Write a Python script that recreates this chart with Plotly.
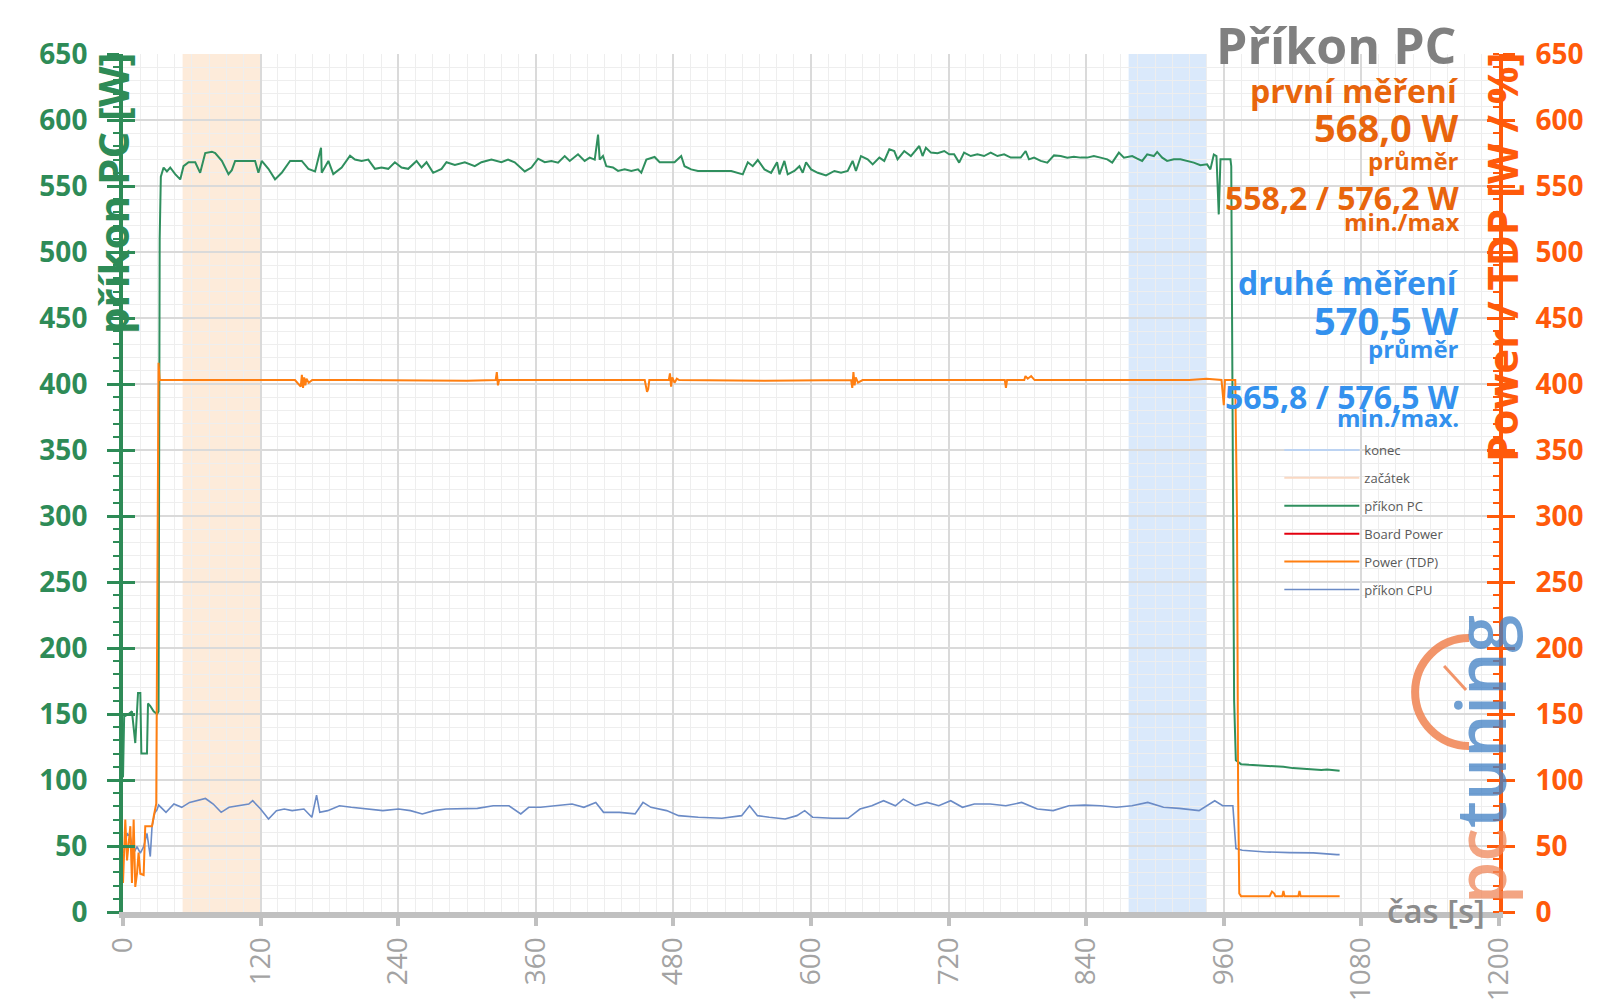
import plotly.graph_objects as go

# --- data -------------------------------------------------------------------
# příkon PC (left axis, W)
pc_t = [0, 1, 4.9, 7.8, 10.7, 13.1, 15.1, 16, 18, 20.9, 21.8, 23.8, 26.7, 29.6, 31, 32, 33,
        35.4, 38.3, 41.2, 45.5, 49.9, 52.8, 57.2, 63, 67.3, 71.7, 77.5, 80.4, 86.2, 92, 94.9,
        97.8, 106.5, 115.2, 118.1, 121, 126.8, 132.6, 138.4, 145.7, 155.9, 161.7, 167.5,
        172.7, 173.3, 179.1, 183.4, 190.7, 198, 202.3, 208.1, 213.9, 219.7, 225.5, 231.3,
        237.1, 242.9, 248.7, 256, 260.4, 264.7, 270.5, 277.8, 282.1, 289.4, 298.1, 306.8,
        312.6, 321.3, 330, 335.8, 341.6, 350.4, 356.2, 362, 367.8, 373.6, 379.4, 385.2,
        389.6, 396.8, 402.6, 407, 411.4, 414.3, 415.7, 418.6, 421.5, 427.3, 431.7, 437.5,
        443.3, 449.1, 452, 456.4, 463.6, 468, 475.2, 481, 486.8, 489.7, 495.5, 501.4, 510,
        518.8, 530.4, 540.5, 544.9, 549.2, 553.6, 559.4, 565.2, 570.4, 572.5, 576.8, 579.7,
        585.5, 589.9, 592.8, 595.7, 600.1, 605.9, 613.1, 620.4, 626.2, 632, 636.3, 639.2,
        643.6, 649.4, 653.8, 659.6, 663.9, 668.3, 672.6, 675.5, 681.3, 687.1, 694.4, 697.3,
        700.2, 704.6, 710.4, 716.2, 720.5, 724.8, 729.2, 733.5, 739.3, 745.1, 750.9, 756.7,
        762.6, 768.4, 774.2, 782.9, 787.2, 790.1, 794.5, 800.3, 806.1, 811.9, 817.7, 823.5,
        829.3, 835.1, 840.9, 846.7, 852.5, 858.4, 862.7, 868.5, 872.9, 880.1, 884.5, 888.8,
        893.2, 899, 901.9, 906.3, 910.6, 916.4, 922.2, 928, 933.8, 939.6, 945.4, 948.3,
        951.3, 953.6, 955.6, 957.1, 960, 965.8, 966.5, 967.5, 969, 970.5, 975, 982, 990,
        998, 1005, 1012, 1020, 1028, 1035, 1045, 1050, 1061]
pc_w = [102, 148, 150, 152, 128, 166, 166, 120, 120, 120, 158, 156, 152, 150, 152, 510, 557,
        564, 561, 564, 559, 555, 565, 568, 568, 560, 575, 576, 575, 569, 559, 562,
        569, 569, 569, 560, 569, 563, 555, 560, 569, 569, 563, 561,
        579, 560, 569, 559, 564, 573, 570, 569, 570, 563, 564, 563,
        568, 564, 563, 569, 564, 568, 560, 563, 568, 566, 568, 565,
        568, 570, 568, 570, 568, 561, 564, 570.7, 568, 569, 567.7, 572.7,
        569, 574, 569, 571.5, 570, 589, 570, 572.7, 565, 564, 561.4, 562.6,
        561.4, 562.6, 560, 570, 572, 568, 568, 568, 572.7, 565, 562.6, 561.4, 561.4,
        561.4, 561.4, 558.8, 568, 565, 569.7, 562.6, 560, 568, 558.8, 569, 558.8,
        561.4, 565, 560, 568, 562.6, 560, 558, 561.4, 560, 561.4, 569, 561.4,
        572.7, 570.2, 566.4, 571.5, 569, 577.8, 576.5, 570.2, 576.5, 572.7, 580.3, 572.7,
        579, 575.3, 574.8, 576.5, 574, 574, 567.7, 575.3, 572.7, 574, 572.7, 575.3,
        572.7, 574, 571.5, 571.5, 576.5, 570.2, 571.5, 569, 567.7, 573.2, 572.7, 571.5,
        572.2, 571.5, 571.5, 572.7, 571.5, 570.2, 567.7, 575.3, 571.5, 572.7, 570.7, 569,
        574, 572.7, 575.8, 571.5, 569, 570.2, 570.2, 569, 567.7, 565.7, 566.4, 562.6,
        573.9, 572.7, 528.5, 570.2, 570.2, 570.2, 565, 350, 160, 115, 112, 111.5, 111,
        111, 110, 110, 109, 108.5, 108, 107.5, 108, 107]

# Power (TDP) (right axis, W / %)
tdp_t = [0, 2, 3.5, 6.4, 7.8, 9.3, 10.7, 12.2, 13.6, 15.1, 18, 19.4, 22.3, 25.3, 26.7, 28.2,
         29, 30, 31, 32, 50, 100, 150, 155, 156, 157, 158, 159, 160, 162, 165, 200, 250, 300,
         325, 326, 327, 328, 400, 455, 457, 458, 459, 476, 477, 478, 479, 481, 483, 485, 560,
         635, 636, 637, 638, 639, 641, 645, 700, 765, 769, 770, 771, 786, 787, 789, 792, 795,
         850, 930, 945, 958, 960, 961, 970, 971.5, 972.5, 973.5, 975, 1000, 1002, 1004, 1005,
         1011, 1012, 1013, 1025, 1026, 1027, 1061]
tdp_w = [22, 70, 39, 65, 22, 70, 19, 29, 45, 29, 28, 65, 65, 65, 72, 80,
         82, 250, 416, 403, 403, 402.5, 403, 398, 407, 397, 405, 399, 404, 401, 403, 403, 402.5, 402.5,
         403, 409, 399, 403, 403, 403, 394, 396, 403, 403, 408, 398, 405, 401, 404, 403, 402.5,
         403, 397, 409, 399, 405, 401, 403, 403, 402.5, 403, 397, 403, 403, 406, 404, 406, 403,
         403, 403, 404, 403, 384, 403, 403, 300, 90, 14, 12, 12, 15.5, 14, 12,
         12, 16, 12, 12, 16, 12, 12]

# příkon CPU (left axis, W)
cpu_t = [0.6, 3.5, 6.4, 9.3, 12.2, 15.1, 18, 20.9, 23.8, 25.3, 27.6, 29.6, 31.1, 37.5, 44.4,
         51.2, 58.1, 65, 71.9, 78.7, 85.6, 92.5, 99.4, 109.7, 113.1, 120, 126.9, 133.8, 140.6,
         147.5, 157.8, 164.7, 168.8, 171.6, 178.5, 188.8, 199.1, 212.8, 226.6, 240.3, 250.7,
         261, 271.3, 281.6, 295.4, 309.1, 322.9, 336.6, 346.9, 353.8, 364.1, 377.9, 391.6,
         401.9, 412.3, 419.1, 432.9, 446.6, 453.5, 460.4, 474.1, 484.5, 501.7, 522.3, 539.5,
         546.4, 553.3, 563.6, 577.4, 587.7, 594.5, 601.4, 618.6, 632.3, 642.7, 653, 663.3,
         673.6, 680.5, 690.8, 701.1, 711.4, 721.8, 732.1, 742.4, 756.2, 769.9, 783.7, 797.4,
         811.2, 824.9, 838.7, 852.4, 866.2, 879.9, 893.7, 907.4, 921.2, 938.4, 952.1, 959,
         967.9, 970.6, 976.1, 996.7, 1017.4, 1038, 1058.6, 1061]
cpu_w = [44.6, 59.6, 57, 44.6, 49.5, 44.6, 49.5, 59.6, 42, 64.6, 75, 77.3, 81, 75.5, 81.8,
         79.3, 83, 84.3, 86, 81.8, 75.5, 79.3, 80.5, 81.8, 84.3, 78, 70.5, 76.8, 78,
         76.8, 78, 71.8, 88.5, 75.5, 76.8, 80.5, 79.3, 78, 76.8, 78, 76.8,
         74.3, 76.8, 78, 78.5, 78.5, 80.5, 80.5, 74.3, 79.3, 79.3, 80.5, 81.8,
         79.3, 83, 75.5, 75.5, 74.3, 83, 79.3, 76.8, 73, 71.8, 71, 73,
         80.5, 73, 71.8, 70.5, 73, 76.8, 71.8, 71, 71, 78, 80.5, 84.3,
         80.5, 85.5, 80.5, 83, 80.5, 84.3, 79.3, 81.8, 81.8, 80.5, 83, 78,
         76.8, 80.5, 81, 80.5, 79.3, 80.5, 83, 79.3, 78.5, 76.8, 84.3, 80.5,
         80.5, 48, 46.8, 45.5, 45, 44.8, 43.5, 43.5]

# highlighted windows: začátek (first measurement), konec (second measurement)
band_names = ["začátek", "konec"]
band_start = [52, 877]
band_end = [120, 945]

x_ticks = [0, 120, 240, 360, 480, 600, 720, 840, 960, 1080, 1200]
y_ticks = list(range(0, 651, 50))

first_lines = ["první měření", "568,0 W", "průměr", "558,2 / 576,2 W", "min./max"]
second_lines = ["druhé měření", "570,5 W", "průměr", "565,8 / 576,5 W", "min./max."]

# --- styling ----------------------------------------------------------------
GREEN = "#2e8b57"
ORANGE_AX = "#ff5a0a"
ORANGE_TXT = "#e8650c"
BLUE_TXT = "#3391ee"
TDP = "#ff7f11"
CPU = "#6b8bc6"
GRAY = "#a3a3a3"
FONT = "Open Sans"

# plot area as it lands on screen (page body adds an 8px offset)
L, R, T, B = 121, 1499, 54, 912
OFF = 8


def to_paper(px, py):
    return (px - L) / (R - L), (B - py) / (B - T)


fig = go.Figure()

# legend-only entries for the shaded windows
fig.add_trace(go.Scatter(x=[None], y=[None], mode="lines", name="konec",
                         line=dict(color="#bcd3f2", width=2), yaxis="y4",
                         legendgroup="a"))
fig.add_trace(go.Scatter(x=[None], y=[None], mode="lines", name="začátek",
                         line=dict(color="#fad8c2", width=2), yaxis="y4",
                         legendgroup="b"))
fig.add_trace(go.Scatter(x=pc_t, y=pc_w, mode="lines", name="příkon PC",
                         line=dict(color="#2f8f5e", width=2), legendgroup="c"))
fig.add_trace(go.Scatter(x=[None], y=[None], mode="lines", name="Board Power",
                         line=dict(color="#e3000f", width=2), yaxis="y3",
                         legendgroup="d"))
fig.add_trace(go.Scatter(x=tdp_t, y=tdp_w, mode="lines", name="Power (TDP)",
                         line=dict(color=TDP, width=2), yaxis="y2", legendgroup="e"))
fig.add_trace(go.Scatter(x=cpu_t, y=cpu_w, mode="lines", name="příkon CPU",
                         line=dict(color=CPU, width=1.6), legendgroup="f"))

shapes = []
band_fill = {"začátek": "rgba(252,226,203,0.7)", "konec": "rgba(205,225,250,0.75)"}
for name, x0, x1 in zip(band_names, band_start, band_end):
    shapes.append(dict(type="rect", xref="x", yref="paper", x0=x0, x1=x1, y0=0, y1=1,
                       fillcolor=band_fill[name], line=dict(width=0), layer="below"))

# decorative pctuning gauge (semicircle + needle)
cx, cy, r, k = 1469, 692, 54, 0.5523
pts = [(cx, cy - r), (cx - k * r, cy - r), (cx - r, cy - k * r), (cx - r, cy),
       (cx - r, cy + k * r), (cx - k * r, cy + r), (cx, cy + r)]
pp = [to_paper(*p) for p in pts]
path = "M {0[0]},{0[1]} C {1[0]},{1[1]} {2[0]},{2[1]} {3[0]},{3[1]} " \
       "C {4[0]},{4[1]} {5[0]},{5[1]} {6[0]},{6[1]}".format(*pp)
shapes.append(dict(type="path", xref="paper", yref="paper", path=path,
                   line=dict(color="rgba(240,130,80,0.85)", width=8)))
n0, n1 = to_paper(1444, 666), to_paper(1466, 690)
shapes.append(dict(type="line", xref="paper", yref="paper", x0=n0[0], y0=n0[1],
                   x1=n1[0], y1=n1[1], line=dict(color="rgba(240,130,80,0.85)", width=3)))

annotations = [
    dict(text="Příkon PC", xref="paper", yref="paper", x=(1458 - L) / (R - L),
         y=(B - 45) / (B - T), xanchor="right", yanchor="middle", showarrow=False,
         font=dict(family=FONT, size=50, color="#808080", weight="bold")),
    dict(text="příkon PC [W]", xref="paper", yref="paper", x=(110 - L) / (R - L), y=1.0,
         yshift=4, xanchor="center", yanchor="top", textangle=-90, showarrow=False,
         font=dict(family=FONT, size=42, color=GREEN, weight="bold")),
    dict(text="Power / TDP [W / %]", xref="paper", yref="paper", x=(1501 - L) / (R - L),
         y=1.0, yshift=4, xanchor="center", yanchor="top", textangle=-90, showarrow=False,
         font=dict(family=FONT, size=42, color=ORANGE_AX, weight="bold")),
    dict(text="čas [s]", xref="paper", yref="paper", x=(1487 - L) / (R - L),
         y=(B - 910) / (B - T), xanchor="right", yanchor="middle", showarrow=False,
         font=dict(family=FONT, size=33, color="#8c8c8c", weight=600)),
    dict(text="<span style='color:#ef875a'>pc</span><span style='color:#3f7fc4'>tuning</span>",
         xref="paper", yref="paper", x=(1479 - L) / (R - L), y=(B - 760) / (B - T),
         xanchor="center", yanchor="middle", textangle=-90, showarrow=False, opacity=0.75,
         font=dict(family=FONT, size=68, weight=600)),
]

line_py = [90, 127, 160, 198, 221]
line_size = [32, 38, 24, 32, 24]
second_py = [282, 320, 348, 396, 418]
for txt, py, sz in zip(first_lines, line_py, line_size):
    annotations.append(dict(text=txt, xref="paper", yref="paper", x=(1461 - L) / (R - L),
                            y=(B - py) / (B - T), xanchor="right", yanchor="middle",
                            showarrow=False,
                            font=dict(family=FONT, size=sz, color=ORANGE_TXT, weight="bold")))
for txt, py, sz in zip(second_lines, second_py, line_size):
    annotations.append(dict(text=txt, xref="paper", yref="paper", x=(1461 - L) / (R - L),
                            y=(B - py) / (B - T), xanchor="right", yanchor="middle",
                            showarrow=False,
                            font=dict(family=FONT, size=sz, color=BLUE_TXT, weight="bold")))

tick_font = dict(family=FONT, size=28, weight="bold")

fig.update_layout(
    width=1600, height=1008,
    margin=dict(l=L - OFF + 2, r=1600 - R + OFF, t=T - OFF, b=1008 - B + OFF),
    paper_bgcolor="white", plot_bgcolor="white",
    showlegend=True,
    legend=dict(x=(1279 - L) / (R - L), y=(B - 435) / (B - T), xanchor="left",
                yanchor="top", bgcolor="rgba(0,0,0,0)", itemwidth=75,
                tracegroupgap=8, traceorder="grouped",
                font=dict(family=FONT, size=13, color="#595959")),
    xaxis=dict(range=[0, 1200], tickvals=x_ticks, tickangle=-90,
               tickfont=dict(family=FONT, size=28, color=GRAY),
               showline=True, linecolor="#c0c0c0", linewidth=6,
               ticks="outside", ticklen=8, tickwidth=4, tickcolor="#c0c0c0",
               showgrid=True, gridcolor="#dadada", gridwidth=2, zeroline=False,
               minor=dict(dtick=15, showgrid=True, gridcolor="#eeeeee", gridwidth=1)),
    yaxis=dict(range=[0, 650], tickvals=y_ticks, tickfont=dict(color=GREEN, **tick_font),
               showline=True, linecolor=GREEN, linewidth=4,
               ticks="outside", ticklen=12, tickwidth=3, tickcolor=GREEN,
               ticklabelstandoff=14,
               showgrid=True, gridcolor="#dadada", gridwidth=2, zeroline=False,
               minor=dict(dtick=10, ticks="outside", ticklen=6, tickwidth=2,
                          tickcolor=GREEN, showgrid=True, gridcolor="#eeeeee",
                          gridwidth=1)),
    yaxis2=dict(range=[0, 650], tickvals=y_ticks, overlaying="y", side="right",
                tickfont=dict(color=ORANGE_AX, **tick_font),
                showline=True, linecolor=ORANGE_AX, linewidth=4,
                ticks="outside", ticklen=12, tickwidth=3, tickcolor=ORANGE_AX,
                ticklabelstandoff=15, showgrid=False, zeroline=False,
                minor=dict(dtick=10, ticks="inside", ticklen=6, tickwidth=2,
                           tickcolor=ORANGE_AX)),
    yaxis3=dict(range=[0, 650], tickvals=y_ticks, overlaying="y", side="left",
                showticklabels=False, ticks="inside", ticklen=12, tickwidth=3,
                tickcolor=GREEN, showgrid=False, zeroline=False, showline=False),
    yaxis4=dict(range=[0, 650], tickvals=y_ticks, overlaying="y", side="right",
                showticklabels=False, ticks="inside", ticklen=12, tickwidth=3,
                tickcolor=ORANGE_AX, showgrid=False, zeroline=False, showline=False),
    shapes=shapes,
    annotations=annotations,
)

fig.write_html("out.html")
